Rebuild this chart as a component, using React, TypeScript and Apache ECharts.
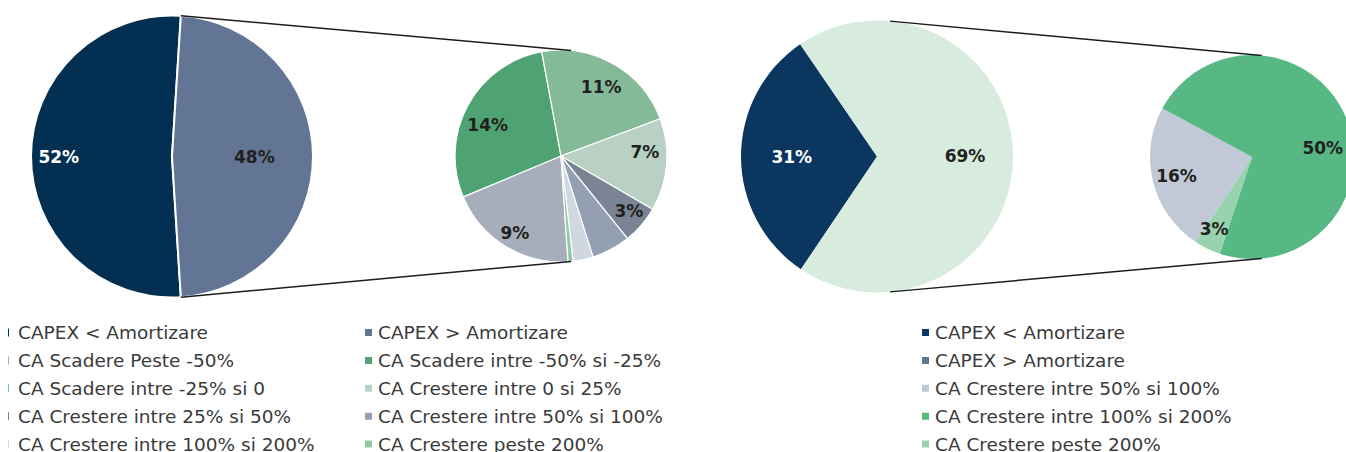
import React, { useEffect, useRef } from "react";
import * as echarts from "echarts";

// ---------- DATA ----------
const leftMainNames = ["CAPEX < Amortizare", "CAPEX > Amortizare"];
const leftMainValues = [52, 48];

const leftSplitNames = [
  "CA Scadere Peste -50%",
  "CA Scadere intre -50% si -25%",
  "CA Scadere intre -25% si 0",
  "CA Crestere intre 0 si 25%",
  "CA Crestere intre 25% si 50%",
  "CA Crestere intre 50% si 100%",
  "CA Crestere intre 100% si 200%",
  "CA Crestere peste 200%",
];
const leftSplitValues = [9.48, 13.63, 10.65, 6.77, 2.8, 2.83, 1.47, 0.37];

const rightMainNames = ["CAPEX < Amortizare", "CAPEX > Amortizare"];
const rightMainValues = [31, 69];

const rightSplitNames = [
  "CA Crestere intre 50% si 100%",
  "CA Crestere intre 100% si 200%",
  "CA Crestere peste 200%",
];
const rightSplitValues = [16.3, 49.8, 2.9];

const leftLegendCol1 = [
  "CAPEX < Amortizare",
  "CA Scadere Peste -50%",
  "CA Scadere intre -25% si 0",
  "CA Crestere intre 25% si 50%",
  "CA Crestere intre 100% si 200%",
];
const leftLegendCol2 = [
  "CAPEX > Amortizare",
  "CA Scadere intre -50% si -25%",
  "CA Crestere intre 0 si 25%",
  "CA Crestere intre 50% si 100%",
  "CA Crestere peste 200%",
];
const rightLegendItems = [
  "CAPEX < Amortizare",
  "CAPEX > Amortizare",
  "CA Crestere intre 50% si 100%",
  "CA Crestere intre 100% si 200%",
  "CA Crestere peste 200%",
];

// ---------- STYLES ----------
const leftColors: Record<string, string> = {
  "CAPEX < Amortizare": "#033052",
  "CAPEX > Amortizare": "#637594",
  "CA Scadere Peste -50%": "#a7aebb",
  "CA Scadere intre -50% si -25%": "#4fa271",
  "CA Scadere intre -25% si 0": "#85ba98",
  "CA Crestere intre 0 si 25%": "#b9d1c4",
  "CA Crestere intre 25% si 50%": "#7a8494",
  "CA Crestere intre 50% si 100%": "#949fb2",
  "CA Crestere intre 100% si 200%": "#d1d7e0",
  "CA Crestere peste 200%": "#8ecba5",
};
const rightPieColors: Record<string, string> = {
  "CAPEX < Amortizare": "#0b3660",
  "CAPEX > Amortizare": "#d7ebdf",
  "CA Crestere intre 50% si 100%": "#c2c9d6",
  "CA Crestere intre 100% si 200%": "#58b883",
  "CA Crestere peste 200%": "#98d2ae",
};
const rightLegendColors: Record<string, string> = {
  ...rightPieColors,
  "CAPEX > Amortizare": "#637594",
};

// label placement: radial fraction of radius, angular shift (deg, clockwise), visibility
const leftMainLabelR = [0.77, 0.56];
const leftMainLabelRot = [0, 0];
const leftMainLabelColor = ["#ffffff", "#231f20"];
const leftSplitLabelR = [0.8, 0.71, 0.71, 0.75, 0.78, 0.7, 0.7, 0.7];
const leftSplitLabelRot = [-0.8, -5.6, 0.9, -7.8, -1.7, 0, 0, 0];
const leftSplitLabelShow = [true, true, true, true, true, false, false, false];
const rightMainLabelR = [0.6, 0.62];
const rightMainLabelRot = [0, 0];
const rightMainLabelColor = ["#ffffff", "#231f20"];
const rightSplitLabelR = [0.72, 0.66, 0.75];
const rightSplitLabelRot = [0, 14.5, 1.9];

// geometry
const LB = { cx: 172, cy: 156.5, r: 141, start: 273.6 };
const LS = { cx: 561, cy: 156, r: 106, start: 273.8 };
const RB = { cx: 877, cy: 156.5, r: 136, start: 236 };
const RS = { cx: 1252, cy: 157, r: 102, start: 236.5 };

const FONT = "DejaVu Sans";

function pieSeries(
  geo: { cx: number; cy: number; r: number; start: number },
  names: string[],
  values: number[],
  colors: Record<string, string>,
  labelR: number[],
  labelRot: number[],
  labelShow: boolean[],
  labelColors: string[] | null,
  border: number
) {
  return {
    type: "pie",
    center: [geo.cx, geo.cy],
    radius: geo.r,
    startAngle: geo.start,
    clockwise: true,
    silent: true,
    avoidLabelOverlap: false,
    label: {
      show: true,
      position: "inside",
      formatter: (p: any) => Math.round(p.value) + "%",
      fontFamily: FONT,
      fontWeight: "bold",
      fontSize: 17,
      color: "#231f20",
      align: "center",
      verticalAlign: "middle",
    },
    labelLine: { show: false },
    itemStyle: { borderColor: "#ffffff", borderWidth: border },
    emphasis: { disabled: true },
    labelLayout: (p: any) => {
      const k = labelR[p.dataIndex] ?? 0.5;
      const rot = ((labelRot[p.dataIndex] ?? 0) * Math.PI) / 180;
      const lr = p.labelRect;
      const mx = lr.x + lr.width / 2;
      const my = lr.y + lr.height / 2;
      const vx = (mx - geo.cx) * 2 * k;
      const vy = (my - geo.cy) * 2 * k;
      const rx = vx * Math.cos(rot) - vy * Math.sin(rot);
      const ry = vx * Math.sin(rot) + vy * Math.cos(rot);
      return { dx: geo.cx + rx - mx, dy: geo.cy + ry - my };
    },
    data: names.map((n, i) => ({
      name: n,
      value: values[i],
      itemStyle: { color: colors[n] },
      label: {
        show: labelShow[i],
        color: labelColors ? labelColors[i] : "#231f20",
      },
    })),
  };
}

function pt(cx: number, cy: number, r: number, compassDeg: number) {
  const a = (compassDeg * Math.PI) / 180;
  return [cx + r * Math.sin(a), cy - r * Math.cos(a)];
}

export default function App() {
  const ref = useRef<HTMLDivElement>(null);

  useEffect(() => {
    if (!ref.current) return;
    const chart = echarts.init(ref.current, null, { renderer: "svg" });

    const total = leftMainValues.reduce((a, b) => a + b, 0);
    const leftHalf = (leftMainValues[1] / total) * 180; // half-angle of aggregated slice
    const leftBigAng = 90 - leftHalf;
    const conn = 5.5;

    const lines = [
      [pt(LB.cx, LB.cy, LB.r, leftBigAng), pt(LS.cx, LS.cy, LS.r, conn)],
      [pt(LB.cx, LB.cy, LB.r, 180 - leftBigAng), pt(LS.cx, LS.cy, LS.r, 180 - conn)],
      [pt(RB.cx, RB.cy, RB.r, conn), pt(RS.cx, RS.cy, RS.r, conn)],
      [pt(RB.cx, RB.cy, RB.r, 180 - conn), pt(RS.cx, RS.cy, RS.r, 180 - conn)],
    ];

    const legendText = { fontFamily: FONT, fontSize: 18.5, color: "#3a3a3a" };
    const legendBase = {
      orient: "vertical",
      top: 323,
      height: 200,
      padding: 0,
      itemGap: 8.9,
      selectedMode: false,
      textStyle: legendText,
    };

    chart.setOption({
      animation: false,
      backgroundColor: "#ffffff",
      legend: [
        {
          ...legendBase,
          left: 6,
          itemWidth: 9,
          itemHeight: 10,
          icon: "path://M0,0H3V10H0Z",
          data: leftLegendCol1.map((n) => ({ name: n, itemStyle: { color: leftColors[n] } })),
        },
        {
          ...legendBase,
          left: 363,
          itemWidth: 9,
          itemHeight: 9,
          icon: "rect",
          data: leftLegendCol2.map((n) => ({ name: n, itemStyle: { color: leftColors[n] } })),
        },
        {
          ...legendBase,
          left: 920,
          itemWidth: 9,
          itemHeight: 9,
          icon: "rect",
          data: rightLegendItems.map((n) => ({ name: n, itemStyle: { color: rightLegendColors[n] } })),
        },
      ],
      graphic: lines.map(([a, b]) => ({
        type: "line",
        z: 10,
        silent: true,
        shape: { x1: a[0], y1: a[1], x2: b[0], y2: b[1] },
        style: { stroke: "#1c1c1c", lineWidth: 1.5 },
      })),
      series: [
        pieSeries(LB, leftMainNames, leftMainValues, leftColors, leftMainLabelR, leftMainLabelRot, [true, true], leftMainLabelColor, 2),
        pieSeries(LS, leftSplitNames, leftSplitValues, leftColors, leftSplitLabelR, leftSplitLabelRot, leftSplitLabelShow, null, 1.2),
        pieSeries(RB, rightMainNames, rightMainValues, rightPieColors, rightMainLabelR, rightMainLabelRot, [true, true], rightMainLabelColor, 0),
        pieSeries(RS, rightSplitNames, rightSplitValues, rightPieColors, rightSplitLabelR, rightSplitLabelRot, [true, true, true], null, 0),
      ],
    });

    return () => chart.dispose();
  }, []);

  return (
    <div
      ref={ref}
      style={{ position: "fixed", left: 0, top: 0, width: 1346, height: 452 }}
    />
  );
}
